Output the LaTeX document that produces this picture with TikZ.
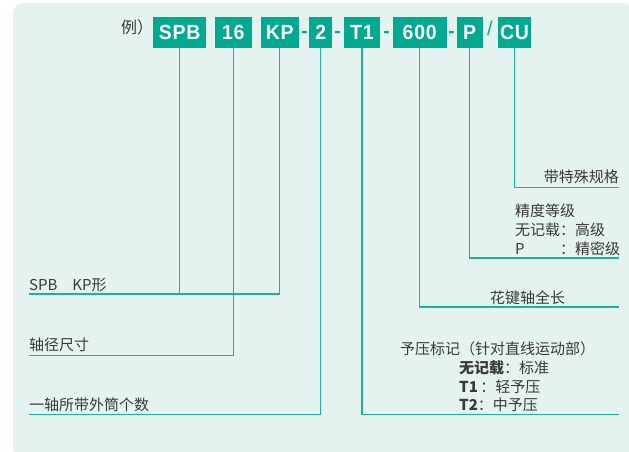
\documentclass[tikz,border=0pt]{standalone}
\usepackage{fontspec}
\setmainfont{Noto Sans CJK SC}
\newfontfamily\boxfont[LetterSpace=4,FakeStretch=0.95]{Liberation Sans}
\newfontfamily\sepfont{Liberation Sans}
\definecolor{bgmint}{HTML}{E4F3EF}
\definecolor{boxgreen}{HTML}{00AA90}
\definecolor{leadgreen}{HTML}{1DB39B}
\definecolor{txtgray}{HTML}{3A3A3A}
\tikzset{
  codebox/.style={fill=boxgreen, text=white, font=\boxfont\bfseries\fontsize{20.5}{20.5}\selectfont,
    minimum height=31pt, inner sep=0pt, anchor=center},
  sepmark/.style={text=boxgreen, font=\sepfont\bfseries\fontsize{19}{19}\selectfont, inner sep=0pt, anchor=base},
  lead/.style={draw=leadgreen, line width=1.3pt},
  lbl/.style={text=txtgray, font=\fontsize{15}{15}\selectfont, inner sep=0pt, anchor=west},
}
\begin{document}
\begin{tikzpicture}[x=1pt,y=-1pt]
\useasboundingbox (0,0) rectangle (629,452);
\clip (0,0) rectangle (629,452);
\fill[bgmint, rounded corners=10pt] (13,3) rectangle (632,458);

% title
\node[lbl, font=\fontsize{16}{16}\selectfont] (ex) at (121,27.5) {例）};

% code boxes
\node[codebox, minimum width=52.7pt] (spb) at (179.7,32.5) {SPB};
\node[codebox, minimum width=36.7pt] (n16) at (233.3,32.5) {16};
\node[codebox, minimum width=38.3pt] (kp) at (279.8,32.5) {KP};
\node[codebox, minimum width=23pt] (n2) at (320.8,32.5) {2};
\node[codebox, minimum width=36.6pt] (t1) at (362,32.5) {T1};
\node[codebox, minimum width=54pt] (n600) at (419.7,32.5) {600};
\node[codebox, minimum width=26pt] (p) at (469.7,32.5) {P};
\node[codebox, minimum width=32.4pt] (cu) at (514.5,32.5) {CU};

% separators
\node[sepmark] (d1) at (304.5,38) {-};
\node[sepmark] (d2) at (337.5,38) {-};
\node[sepmark] (d3) at (386.5,38) {-};
\node[sepmark] (d4) at (451.5,38) {-};
\node[sepmark, font=\sepfont\fontsize{20}{20}\selectfont] (sl) at (490,36) {/};

% labels
\node[lbl] (lspb) at (29,284.5) {SPB\quad KP形};
\node[lbl] (l16) at (29,345) {轴径尺寸};
\node[lbl] (l2) at (29,405) {一轴所带外筒个数};
\node[lbl, anchor=east] (lcu) at (619,176.5) {带特殊规格};
\node[lbl] (lp1) at (515,211) {精度等级};
\node[lbl] (lp2) at (515,230) {无记载：高级};
\node[lbl] (lp3) at (515,248.5) {\rlap{P}\phantom{无记载}：精密级};
\node[lbl] (l600) at (490,297.5) {花键轴全长};
\node[lbl] (lt0) at (400,349) {予压标记（针对直线运动部）};
\node[lbl] (lt1) at (459,368) {\textbf{无记载}：标准};
\node[lbl] (lt2) at (459,386.5) {\textbf{T1}\,：轻予压};
\node[lbl] (lt3) at (459,405) {\textbf{T2}：中予压};

% line end points
\coordinate (e1) at (29,294);
\coordinate (e2) at (29,355.5);
\coordinate (e3) at (29,414.5);
\coordinate (e4) at (619,414.5);
\coordinate (e5) at (619,307);
\coordinate (e6) at (619,258);
\coordinate (e7) at (619,187.5);

% connectors
\draw[lead] (spb.south) -- (spb.south |- e1);
\draw[lead] (kp.south) |- (e1);
\draw[lead] (n16.south) |- (e2);
\draw[lead] (n2.south) |- (e3);
\draw[lead] (t1.south) |- (e4);
\draw[lead] (n600.south) |- (e5);
\draw[lead] (p.south) |- (e6);
\draw[lead] (cu.south) |- (e7);
\end{tikzpicture}
\end{document}
